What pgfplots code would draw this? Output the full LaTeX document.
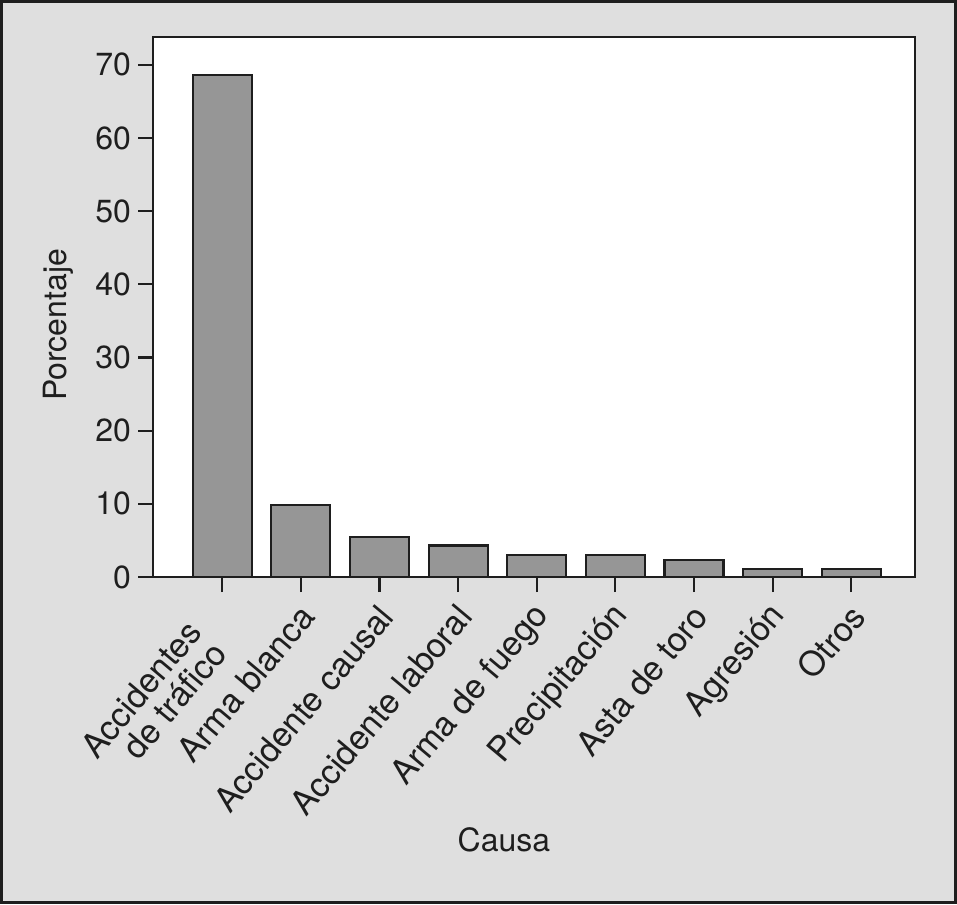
\documentclass[border=0pt]{standalone}
\usepackage{fontspec}
\setmainfont{TeX Gyre Heros}
\usepackage{pgfplots}
\pgfplotsset{compat=1.18}
\definecolor{bgc}{HTML}{DFDFDF}
\definecolor{barc}{HTML}{969696}
\definecolor{edgec}{HTML}{1E1E1E}
\begin{document}
\begin{tikzpicture}
\useasboundingbox (0,0) rectangle (478.5pt,452pt);
\fill[bgc] (0,0) rectangle (478.5pt,452pt);
\draw[line width=1.3pt, edgec] (0.65pt,0.65pt) rectangle (477.85pt,451.35pt);
\begin{axis}[
  at={(76.5pt,163.5pt)}, anchor=south west,
  scale only axis, width=381pt, height=270pt,
  xmin=-0.88, xmax=8.81, ymin=0, ymax=73.8,
  axis background/.style={fill=white},
  axis line style={line width=1.2pt, edgec},
  ytick={0,10,...,70},
  xtick={0,...,8},
  xticklabels={{Accidentes\rule{17pt}{0pt}\\de tráfico\rule{17pt}{0pt}},{Arma blanca},{Accidente causal},{Accidente laboral},{Arma de fuego},{Precipitación},{Asta de toro},{Agresión},{Otros}},
  tick pos=left,
  tick align=outside,
  major tick length=7.5pt,
  tick style={line width=1.1pt, edgec},
  /pgf/number format/assume math mode=true,
  x tick label style={xshift=5.5pt, yshift=-6.5pt, rotate=50, anchor=east, align=right, font=\fontsize{17}{16.5}\selectfont, text=edgec},
  y tick label style={font=\fontsize{16}{19}\selectfont, text=edgec},
  xlabel={Causa},
  ylabel={Porcentaje},
  label style={font=\fontsize{16}{19}\selectfont, text=edgec},
  xlabel style={at={(rel axis cs:0.4606,-0.487)}, anchor=center},
  ylabel style={at={(rel axis cs:-0.1247,0.4667)}, anchor=center, rotate=0},
]
\addplot[ybar, bar width=29.5pt, fill=barc, draw=edgec, line width=1.1pt] coordinates {
  (0,68.6) (1,9.85) (2,5.5) (3,4.3) (4,3.05) (5,3.05) (6,2.35) (7,1.1) (8,1.1)
};
\end{axis}
\end{tikzpicture}
\end{document}
